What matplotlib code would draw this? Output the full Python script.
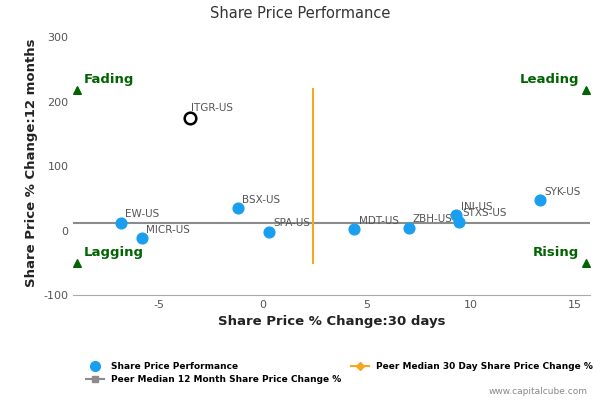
import matplotlib.pyplot as plt
from matplotlib.lines import Line2D

plt.rcParams["axes.unicode_minus"] = False

names = ["EW-US", "MICR-US", "BSX-US", "SPA-US", "MDT-US", "ZBH-US", "INI-US", "STXS-US", "SYK-US"]
x_30d = [-6.8, -5.8, -1.2, 0.3, 4.4, 7.0, 9.3, 9.4, 13.3]
y_12m = [12, -12, 35, -2, 2, 4, 24, 14, 47]
focus_name = "ITGR-US"
focus_x, focus_y = -3.5, 175
median_30d = 2.4
median_12m = 12

fig = plt.figure(figsize=(6, 4), dpi=100)
ax = fig.add_axes([0.122, 0.2625, 0.861, 0.66])
ax.set_xlim(-9.1, 15.7)
ax.set_ylim(-100, 310)

ax.axhline(median_12m, color="#8c8c8c", lw=1.5, zorder=1)
ax.plot([median_30d, median_30d], [-50, 220], color="#f5a623", lw=1.5, zorder=1)

ax.scatter(x_30d, y_12m, s=60, color="#1a9ff0", zorder=3)
ax.scatter([focus_x], [focus_y], s=70, facecolor="white", edgecolor="black", lw=1.8, zorder=3)

for n, xv, yv in zip(names, x_30d, y_12m):
    ax.annotate(n, (xv, yv), xytext=(3, 4), textcoords="offset points", fontsize=7.5, color="#555555")
ax.annotate(focus_name, (focus_x, focus_y), xytext=(1, 5), textcoords="offset points", fontsize=7.5, color="#555555")

green = "#006400"
for tx, ty, lab, ha in [(-8.9, 218, "Fading", "left"), (-8.9, -50, "Lagging", "left"),
                        (15.5, 218, "Leading", "right"), (15.5, -50, "Rising", "right")]:
    ax.scatter([tx], [ty], marker="^", s=30, color=green, zorder=3)
    dx = 0.3 if ha == "left" else -0.3
    ax.text(tx + dx, ty + 6, lab, color=green, fontsize=9.5, fontweight="bold", ha=ha, va="bottom")

ax.set_xticks([-5, 0, 5, 10, 15])
ax.set_yticks([-100, 0, 100, 200, 300])
ax.tick_params(labelsize=8, colors="#555555", length=0)
for s in ["top", "right", "left"]:
    ax.spines[s].set_visible(False)
ax.spines["bottom"].set_color("#aaaaaa")
ax.set_xlabel("Share Price % Change:30 days", fontsize=9.5, fontweight="bold", color="#222222")
ax.set_ylabel("Share Price % Change:12 months", fontsize=9.5, fontweight="bold", color="#222222")
fig.text(0.5, 0.955, "Share Price Performance", ha="center", fontsize=10.5, color="#333333")

h_spp = Line2D([], [], marker="o", color="none", markerfacecolor="#1a9ff0", markeredgecolor="#1a9ff0", markersize=7)
h_30 = Line2D([], [], marker="D", color="#f5a623", markersize=4)
h_12 = Line2D([], [], marker="s", color="#8c8c8c", markersize=5)
handles = [h_spp, h_12, h_30]
labels = ["Share Price Performance", "Peer Median 12 Month Share Price Change %",
          "Peer Median 30 Day Share Price Change %"]
fig.legend(handles, labels, loc="lower left", bbox_to_anchor=(0.13, 0.02), ncol=2, frameon=False,
           prop={"size": 6.5, "weight": "bold"}, columnspacing=1.0, handlelength=2, labelspacing=0.4)
fig.text(0.98, 0.015, "www.capitalcube.com", ha="right", fontsize=6.5, color="#888888")

fig.savefig("out.png")
